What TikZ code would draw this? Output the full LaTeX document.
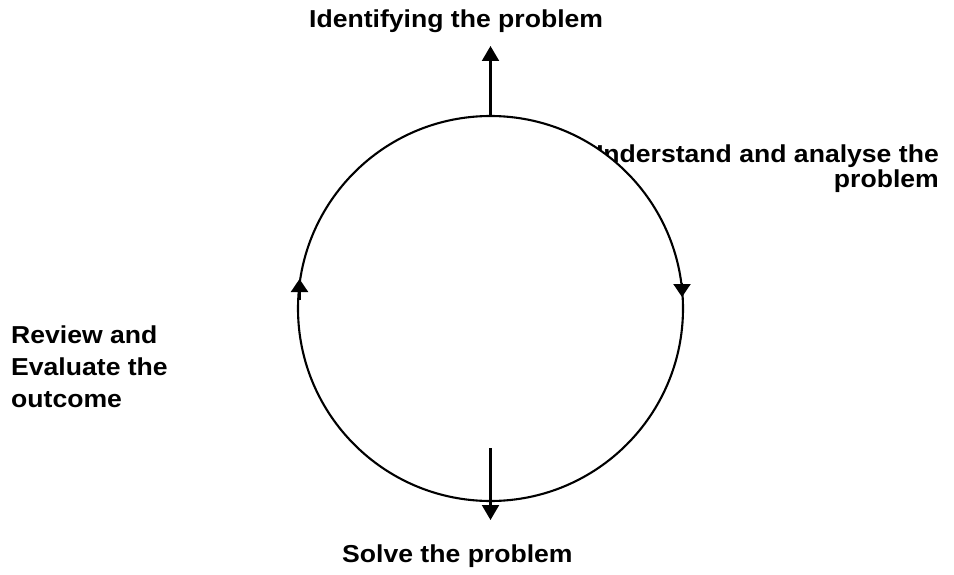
\documentclass[tikz,border=0pt]{standalone}
\usepackage{fontspec}
\setmainfont{Liberation Sans}[FakeStretch=1.085]
\usetikzlibrary{arrows.meta}
\begin{document}
\begin{tikzpicture}[x=1pt,y=-1pt,
  lbl/.style={inner sep=0pt, font=\fontsize{24.5}{28}\selectfont\bfseries},
  arr/.style={line width=2.1pt, -{Triangle[width=17pt,length=15pt]}},
  smallarr/.style={line width=2.1pt, -{Triangle[width=17pt,length=13pt]}}]
\useasboundingbox (0,0) rectangle (954,575);
\fill[white] (0,0) rectangle (954,575);
% right label (drawn first: the circle covers part of its first letter)
\node[lbl, anchor=base east] (und1) at (939,163) {Understand and analyse the};
\node[lbl, anchor=base east] (und2) at (939,187.5) {problem};
% circle
\node[circle, draw, fill=white, line width=2.1pt, inner sep=0pt, outer sep=0pt,
      minimum size=385pt] (cyc) at (490.5,308.5) {};
% labels
\node[lbl, anchor=base west] (ident) at (309,28) {Identifying the problem};
\node[lbl, anchor=base west] (solve) at (342,562) {Solve the problem};
\node[lbl, anchor=base west] (rev1) at (11,343) {Review and};
\node[lbl, anchor=base west] (rev2) at (11,375) {Evaluate the};
\node[lbl, anchor=base west] (rev3) at (11,407) {outcome};
% coordinates
\coordinate (topTip) at (490.5,46);
\coordinate (botStart) at (490.5,448);
\coordinate (botTip) at (490.5,520);
\coordinate (rA) at (682,283);
\coordinate (rB) at (682,297);
\coordinate (lA) at (299.5,300);
\coordinate (lB) at (299.5,279);
% arrows
\draw[arr] (cyc.north) -- (topTip);
\draw[arr] (botStart) -- (botTip);
\draw[smallarr] (rA) -- (rB);
\draw[smallarr] (lA) -- (lB);
\end{tikzpicture}
\end{document}
